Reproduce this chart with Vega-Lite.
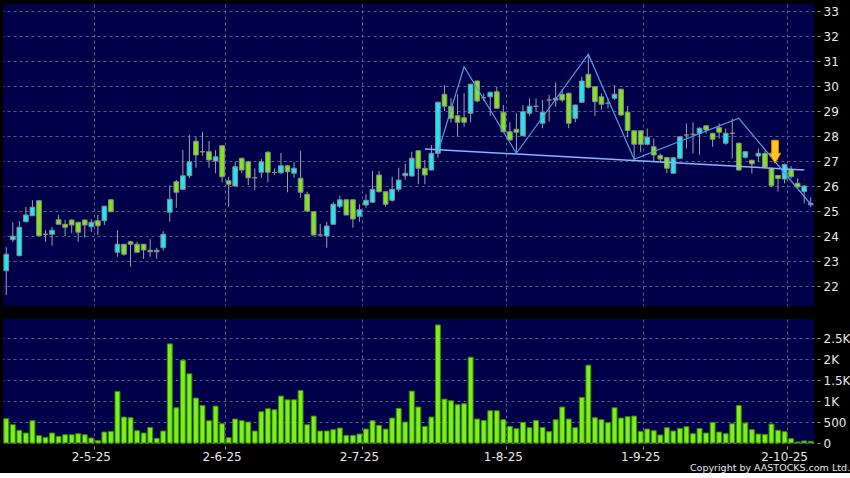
{
"$schema":"https://vega.github.io/schema/vega-lite/v6.json",
"background":"#000000",
"padding":{"left":3,"top":4,"right":0,"bottom":0},
"config":{"view":{"fill":"#00004a","stroke":null},
"axis":{"gridColor":"#5c5c86","gridDash":[3,3],"gridWidth":1,"labelColor":"#e8e8e8","labelFont":"DejaVu Sans","labelFontSize":12,"tickColor":"#9a9a9a","domain":false,"title":null,"labelOverlap":false,"labelFlush":false,"labelBound":false}},
"title":{"text":"Copyright by AASTOCKS.com Ltd.","orient":"bottom","anchor":"end","frame":"bounds","color":"#e8e8e8","fontSize":9.5,"font":"DejaVu Sans","fontWeight":"normal","offset":1},
"spacing":13,
"datasets":{
"k":[
{"d":"2025-04-10","o":22.61,"h":23.55,"l":21.64,"c":23.27,"v":580},
{"d":"2025-04-11","o":23.85,"h":24.55,"l":23.75,"c":23.99,"v":437},
{"d":"2025-04-14","o":23.21,"h":24.6,"l":23.2,"c":24.35,"v":302},
{"d":"2025-04-15","o":24.57,"h":25.16,"l":24.55,"c":24.84,"v":238},
{"d":"2025-04-16","o":24.81,"h":25.43,"l":24.8,"c":25.15,"v":532},
{"d":"2025-04-17","o":25.41,"h":25.43,"l":24.0,"c":24.01,"v":175},
{"d":"2025-04-22","o":24.07,"h":24.23,"l":23.77,"c":24.07,"v":135},
{"d":"2025-04-23","o":24.07,"h":24.36,"l":23.61,"c":24.23,"v":238},
{"d":"2025-04-24","o":24.65,"h":24.84,"l":24.44,"c":24.47,"v":159},
{"d":"2025-04-25","o":24.47,"h":24.65,"l":23.99,"c":24.35,"v":198},
{"d":"2025-04-28","o":24.64,"h":24.66,"l":24.11,"c":24.44,"v":198},
{"d":"2025-04-29","o":24.55,"h":24.56,"l":23.77,"c":24.15,"v":222},
{"d":"2025-04-30","o":24.64,"h":24.65,"l":23.93,"c":24.44,"v":198},
{"d":"2025-05-02","o":24.37,"h":24.68,"l":24.17,"c":24.55,"v":119},
{"d":"2025-05-06","o":24.61,"h":24.84,"l":24.04,"c":24.41,"v":56},
{"d":"2025-05-07","o":24.61,"h":25.2,"l":24.44,"c":25.19,"v":262},
{"d":"2025-05-08","o":25.45,"h":25.48,"l":24.95,"c":24.97,"v":278},
{"d":"2025-05-09","o":23.35,"h":24.23,"l":23.17,"c":23.67,"v":1231},
{"d":"2025-05-12","o":23.67,"h":23.68,"l":23.21,"c":23.27,"v":619},
{"d":"2025-05-13","o":23.77,"h":23.8,"l":22.77,"c":23.67,"v":603},
{"d":"2025-05-14","o":23.67,"h":23.77,"l":23.35,"c":23.35,"v":294},
{"d":"2025-05-15","o":23.67,"h":23.68,"l":23.08,"c":23.44,"v":238},
{"d":"2025-05-16","o":23.43,"h":23.88,"l":23.17,"c":23.37,"v":373},
{"d":"2025-05-19","o":23.37,"h":23.53,"l":23.08,"c":23.43,"v":111},
{"d":"2025-05-20","o":23.53,"h":24.2,"l":23.41,"c":24.07,"v":286},
{"d":"2025-05-21","o":24.95,"h":26.03,"l":24.57,"c":25.47,"v":2366},
{"d":"2025-05-22","o":26.17,"h":26.24,"l":25.13,"c":25.75,"v":842},
{"d":"2025-05-23","o":25.87,"h":27.44,"l":25.85,"c":26.41,"v":1977},
{"d":"2025-05-26","o":26.41,"h":28.04,"l":26.31,"c":26.97,"v":1652},
{"d":"2025-05-27","o":27.79,"h":27.97,"l":26.73,"c":27.24,"v":1072},
{"d":"2025-05-28","o":27.37,"h":28.17,"l":27.21,"c":27.37,"v":897},
{"d":"2025-05-29","o":27.37,"h":27.8,"l":26.73,"c":27.04,"v":532},
{"d":"2025-05-30","o":27.0,"h":27.44,"l":26.51,"c":27.17,"v":881},
{"d":"2025-06-02","o":27.61,"h":27.63,"l":26.15,"c":26.37,"v":460},
{"d":"2025-06-03","o":26.21,"h":26.37,"l":25.17,"c":26.07,"v":127},
{"d":"2025-06-04","o":26.0,"h":26.97,"l":25.99,"c":26.77,"v":572},
{"d":"2025-06-05","o":27.11,"h":27.13,"l":26.51,"c":26.64,"v":532},
{"d":"2025-06-06","o":26.97,"h":26.99,"l":26.04,"c":26.33,"v":500},
{"d":"2025-06-09","o":26.33,"h":26.71,"l":25.83,"c":26.33,"v":286},
{"d":"2025-06-10","o":26.55,"h":27.08,"l":26.33,"c":26.97,"v":746},
{"d":"2025-06-11","o":27.35,"h":27.4,"l":26.15,"c":26.55,"v":818},
{"d":"2025-06-12","o":26.54,"h":26.7,"l":26.45,"c":26.54,"v":794},
{"d":"2025-06-13","o":26.53,"h":27.32,"l":26.47,"c":26.81,"v":1120},
{"d":"2025-06-16","o":26.81,"h":26.83,"l":25.75,"c":26.57,"v":1032},
{"d":"2025-06-17","o":26.51,"h":26.97,"l":26.33,"c":26.71,"v":1032},
{"d":"2025-06-18","o":26.31,"h":27.4,"l":25.53,"c":25.75,"v":1254},
{"d":"2025-06-19","o":25.67,"h":25.77,"l":24.95,"c":25.0,"v":437},
{"d":"2025-06-20","o":24.97,"h":25.0,"l":24.03,"c":24.04,"v":643},
{"d":"2025-06-23","o":24.04,"h":24.49,"l":24.03,"c":24.04,"v":286},
{"d":"2025-06-24","o":24.0,"h":24.57,"l":23.53,"c":24.4,"v":286},
{"d":"2025-06-25","o":24.47,"h":25.35,"l":24.45,"c":25.27,"v":318},
{"d":"2025-06-26","o":25.19,"h":25.61,"l":25.11,"c":25.45,"v":357},
{"d":"2025-06-27","o":25.45,"h":25.47,"l":24.83,"c":24.84,"v":183},
{"d":"2025-06-30","o":25.45,"h":25.47,"l":24.33,"c":24.68,"v":183},
{"d":"2025-07-02","o":24.79,"h":25.27,"l":24.57,"c":25.05,"v":214},
{"d":"2025-07-03","o":25.24,"h":25.67,"l":25.13,"c":25.43,"v":333},
{"d":"2025-07-04","o":25.35,"h":26.6,"l":25.33,"c":25.87,"v":532},
{"d":"2025-07-07","o":26.44,"h":26.6,"l":25.75,"c":25.77,"v":421},
{"d":"2025-07-08","o":25.77,"h":25.79,"l":25.17,"c":25.27,"v":333},
{"d":"2025-07-09","o":25.43,"h":26.37,"l":25.37,"c":25.87,"v":596},
{"d":"2025-07-10","o":25.87,"h":26.73,"l":25.77,"c":26.24,"v":826},
{"d":"2025-07-11","o":26.41,"h":26.9,"l":26.25,"c":26.51,"v":500},
{"d":"2025-07-14","o":26.4,"h":27.37,"l":26.38,"c":27.11,"v":1239},
{"d":"2025-07-15","o":27.41,"h":27.43,"l":26.07,"c":26.71,"v":858},
{"d":"2025-07-16","o":26.71,"h":27.04,"l":26.07,"c":26.44,"v":397},
{"d":"2025-07-17","o":26.64,"h":27.64,"l":26.63,"c":27.31,"v":619},
{"d":"2025-07-18","o":27.31,"h":29.37,"l":27.13,"c":29.35,"v":2818},
{"d":"2025-07-21","o":29.67,"h":30.04,"l":29.0,"c":29.19,"v":1048},
{"d":"2025-07-22","o":29.19,"h":29.51,"l":28.55,"c":28.71,"v":1008},
{"d":"2025-07-23","o":28.81,"h":29.67,"l":27.97,"c":28.55,"v":913},
{"d":"2025-07-24","o":28.73,"h":29.71,"l":28.37,"c":28.55,"v":937},
{"d":"2025-07-25","o":28.91,"h":30.1,"l":28.55,"c":30.07,"v":2048},
{"d":"2025-07-28","o":30.2,"h":30.22,"l":29.35,"c":29.4,"v":572},
{"d":"2025-07-29","o":29.53,"h":29.7,"l":29.4,"c":29.53,"v":540},
{"d":"2025-07-30","o":29.57,"h":29.76,"l":28.81,"c":29.75,"v":770},
{"d":"2025-07-31","o":29.77,"h":29.97,"l":29.09,"c":29.11,"v":770},
{"d":"2025-08-01","o":28.95,"h":29.24,"l":28.15,"c":28.17,"v":556},
{"d":"2025-08-04","o":28.17,"h":28.55,"l":27.83,"c":27.84,"v":397},
{"d":"2025-08-05","o":28.27,"h":28.91,"l":27.31,"c":28.15,"v":341},
{"d":"2025-08-06","o":28.01,"h":29.24,"l":28.0,"c":28.97,"v":492},
{"d":"2025-08-07","o":28.91,"h":29.51,"l":28.81,"c":29.19,"v":365},
{"d":"2025-08-08","o":29.19,"h":29.51,"l":28.97,"c":29.19,"v":540},
{"d":"2025-08-11","o":28.51,"h":29.44,"l":28.31,"c":28.95,"v":373},
{"d":"2025-08-12","o":29.44,"h":29.64,"l":28.57,"c":29.44,"v":270},
{"d":"2025-08-13","o":29.44,"h":30.15,"l":29.17,"c":29.51,"v":556},
{"d":"2025-08-14","o":29.67,"h":29.88,"l":29.35,"c":29.44,"v":858},
{"d":"2025-08-15","o":29.71,"h":29.73,"l":28.31,"c":28.51,"v":572},
{"d":"2025-08-18","o":28.71,"h":29.25,"l":28.55,"c":29.24,"v":365},
{"d":"2025-08-19","o":29.35,"h":30.37,"l":29.33,"c":30.2,"v":1088},
{"d":"2025-08-20","o":30.47,"h":31.27,"l":29.9,"c":29.95,"v":1858},
{"d":"2025-08-21","o":29.97,"h":30.0,"l":28.8,"c":29.37,"v":603},
{"d":"2025-08-22","o":29.57,"h":29.7,"l":29.05,"c":29.27,"v":556},
{"d":"2025-08-25","o":29.31,"h":29.5,"l":29.1,"c":29.31,"v":484},
{"d":"2025-08-26","o":29.51,"h":30.04,"l":29.45,"c":29.67,"v":842},
{"d":"2025-08-27","o":29.87,"h":29.9,"l":28.8,"c":28.84,"v":596},
{"d":"2025-08-28","o":28.95,"h":29.2,"l":27.95,"c":28.22,"v":627},
{"d":"2025-08-29","o":28.21,"h":28.22,"l":27.07,"c":27.67,"v":643},
{"d":"2025-09-01","o":28.21,"h":28.22,"l":27.35,"c":27.67,"v":278},
{"d":"2025-09-02","o":27.67,"h":28.3,"l":27.63,"c":27.95,"v":333},
{"d":"2025-09-03","o":27.57,"h":27.9,"l":27.0,"c":27.24,"v":294},
{"d":"2025-09-04","o":27.22,"h":27.3,"l":26.97,"c":27.08,"v":191},
{"d":"2025-09-05","o":27.14,"h":27.15,"l":26.51,"c":26.71,"v":365},
{"d":"2025-09-08","o":26.51,"h":27.15,"l":26.5,"c":27.13,"v":286},
{"d":"2025-09-09","o":27.11,"h":27.98,"l":27.1,"c":27.97,"v":349},
{"d":"2025-09-10","o":28.04,"h":28.5,"l":27.5,"c":28.04,"v":389},
{"d":"2025-09-11","o":28.07,"h":28.55,"l":27.3,"c":28.07,"v":222},
{"d":"2025-09-12","o":28.11,"h":28.35,"l":27.25,"c":28.31,"v":349},
{"d":"2025-09-15","o":28.41,"h":28.43,"l":28.1,"c":28.24,"v":238},
{"d":"2025-09-16","o":28.11,"h":28.12,"l":27.57,"c":27.87,"v":492},
{"d":"2025-09-17","o":28.33,"h":28.5,"l":27.9,"c":28.15,"v":262},
{"d":"2025-09-18","o":27.71,"h":28.3,"l":27.65,"c":28.11,"v":222},
{"d":"2025-09-19","o":28.11,"h":28.7,"l":27.1,"c":28.11,"v":460},
{"d":"2025-09-22","o":27.71,"h":27.75,"l":26.6,"c":26.64,"v":897},
{"d":"2025-09-23","o":27.15,"h":27.4,"l":27.1,"c":27.37,"v":476},
{"d":"2025-09-24","o":27.03,"h":27.05,"l":26.5,"c":26.89,"v":318},
{"d":"2025-09-25","o":27.2,"h":27.5,"l":27.0,"c":27.31,"v":214},
{"d":"2025-09-26","o":27.3,"h":27.4,"l":26.72,"c":26.75,"v":206},
{"d":"2025-09-29","o":26.71,"h":26.72,"l":25.95,"c":26.01,"v":452},
{"d":"2025-09-30","o":26.42,"h":26.45,"l":25.78,"c":26.3,"v":302},
{"d":"2025-10-02","o":26.28,"h":26.9,"l":26.1,"c":26.86,"v":270},
{"d":"2025-10-03","o":26.65,"h":26.8,"l":26.3,"c":26.37,"v":103},
{"d":"2025-10-06","o":26.11,"h":26.3,"l":25.93,"c":25.96,"v":24},
{"d":"2025-10-08","o":25.78,"h":26.02,"l":25.3,"c":26.0,"v":48},
{"d":"2025-10-09","o":25.25,"h":25.55,"l":25.15,"c":25.3,"v":40}
],
"neck":[{"d":"2025-07-16","p":27.48},{"d":"2025-10-08","p":26.64}],
"zig":[{"d":"2025-07-18","p":27.35},{"d":"2025-07-24","p":30.77},{"d":"2025-08-05","p":27.31},{"d":"2025-08-20","p":31.27},{"d":"2025-08-29","p":27.07},{"d":"2025-09-22","p":28.71},{"d":"2025-10-09","p":25.27}],
"arrow":[{"d":"2025-09-30","p":27.37}]
},
"vconcat":[
{"width":811,"height":302,
"layer":[
{"data":{"name":"k"},"mark":{"type":"rule","color":"#a0a0a0","strokeWidth":1},
"encoding":{
"x":{"field":"d","type":"ordinal","scale":{"paddingInner":0,"paddingOuter":0},"axis":{"values":["2025-05-02","2025-06-02","2025-07-02","2025-08-01","2025-09-01","2025-10-02"],"labels":false,"ticks":false,"grid":true,"bandPosition":1}},
"y":{"field":"l","type":"quantitative","scale":{"domain":[21.2,33.28],"nice":false,"zero":false},"axis":{"orient":"right","values":[22,23,24,25,26,27,28,29,30,31,32,33],"grid":true,"tickSize":3,"offset":3,"labelPadding":3,"labelOverlap":false,"labelFlush":false,"labelBound":false,"tickCount":12}},
"y2":{"field":"h"}}},
{"data":{"name":"k"},"mark":{"type":"bar","width":{"band":0.72},"stroke":"#8a8a8a","strokeWidth":1},
"encoding":{
"x":{"field":"d","type":"ordinal"},
"y":{"field":"o","type":"quantitative"},
"y2":{"field":"c"},
"fill":{"condition":{"test":"datum.c > datum.o","value":"#1ee6f5"},"value":"#7ee61c"}}},
{"data":{"name":"neck"},"mark":{"type":"line","color":"#86b6ff","strokeWidth":1.5},
"encoding":{"x":{"field":"d","type":"ordinal"},"y":{"field":"p","type":"quantitative"}}},
{"data":{"name":"zig"},"mark":{"type":"line","color":"#4aa2e6","strokeWidth":1.2},
"encoding":{"x":{"field":"d","type":"ordinal"},"y":{"field":"p","type":"quantitative"}}},
{"data":{"name":"arrow"},"mark":{"type":"point","shape":"M-0.29,-1L0.29,-1L0.29,0.13L0.5,0.13L0,1L-0.5,0.13L-0.29,0.13Z","size":529,"filled":true,"fill":"#ffc81e","stroke":"#e08a00","strokeWidth":1,"opacity":1,"xOffset":-3},
"encoding":{"x":{"field":"d","type":"ordinal"},"y":{"field":"p","type":"quantitative"}}}
]},
{"width":811,"height":124,"data":{"name":"k"},
"mark":{"type":"bar","width":{"band":0.75},"fill":"#7cf01c","stroke":"#3c8c00","strokeWidth":1},
"encoding":{
"x":{"field":"d","type":"ordinal","scale":{"paddingInner":0,"paddingOuter":0},"axis":{"values":["2025-05-02","2025-06-02","2025-07-02","2025-08-01","2025-09-01","2025-10-02"],"labelExpr":"utcFormat(toDate(datum.value), '%-d-%-m-%y')","bandPosition":1,"grid":true,"ticks":true,"tickSize":3,"offset":3,"labelPadding":2,"labelAngle":0}},
"y":{"field":"v","type":"quantitative","scale":{"domain":[0,2960],"nice":false},"axis":{"orient":"right","values":[0,500,1000,1500,2000,2500],"labelExpr":"datum.value >= 1000 ? (datum.value/1000) + 'K' : datum.value","grid":true,"tickSize":3,"offset":3,"labelPadding":3,"labelOverlap":false}}}}
]
}
